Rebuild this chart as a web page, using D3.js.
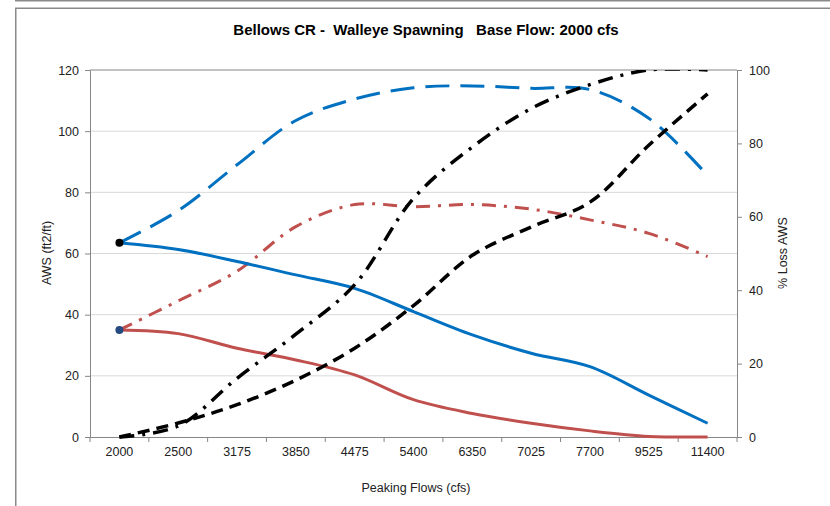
<!DOCTYPE html>
<html>
<head>
<meta charset="utf-8">
<script src="https://cdn.jsdelivr.net/npm/d3@7"></script>
<style>
  html, body { margin: 0; padding: 0; background: #fff; }
  svg { display: block; font-family: "Liberation Sans", Arial, sans-serif; }
  text { white-space: pre; }
</style>
</head>
<body>
<svg id="chart" width="830" height="506"></svg>
<script>
// ---- data ----
const categories = ["2000","2500","3175","3850","4475","5400","6350","7025","7700","9525","11400"];
const leftTicks = [0, 20, 40, 60, 80, 100, 120];
const rightTicks = [0, 20, 40, 60, 80, 100];
// left axis (AWS ft2/ft)
const awsBlueSolid  = [63.5, 61.3, 57.4, 53.0, 48.6, 41.0, 33.4, 27.4, 23.0, 13.7, 4.5];
const awsRedSolid   = [35.0, 33.8, 29.0, 25.2, 20.3, 12.2, 7.7, 4.5, 2.0, 0.2, 0.0];
const awsBlueDashed = [63.5, 74.0, 89.0, 103.5, 110.5, 114.2, 114.8, 114.0, 113.6, 104.2, 85.5];
const awsRedDashDot = [35.0, 44.5, 54.2, 68.8, 76.0, 75.3, 76.0, 74.5, 71.0, 66.6, 59.0];
// right axis (% Loss AWS)
const lossBlackDashDot = [0, 3.0, 16.0, 28.0, 41.5, 65.0, 79.0, 89.5, 96.0, 100, 100];
const lossBlackDashed  = [0, 3.8, 8.8, 15.5, 24.2, 35.8, 49.5, 57.2, 64.0, 79.5, 93.5];
// start markers
const markerBlack = { cat: "2000", value: 63.5 };
const markerNavy  = { cat: "2000", value: 35.0 };

// ---- layout ----
const svg = d3.select("#chart");
const L = 90, R = 737, T = 70, B = 437;
const axisColor = "#868686";
const textColor = "#222";

// outer frame
svg.append("line").attr("x1", 15).attr("x2", 830).attr("y1", 0.5).attr("y2", 0.5)
  .attr("stroke", "#8a8a8a").attr("stroke-width", 2);
svg.append("rect").attr("x", 15.75).attr("y", 8.25).attr("width", 900).attr("height", 600)
  .attr("fill", "none").attr("stroke", "#8a8a8a").attr("stroke-width", 1.5);

svg.append("defs").append("clipPath").attr("id", "plotClip")
  .append("rect").attr("x", L - 10).attr("y", T).attr("width", R - L + 20).attr("height", B - T + 10);

const x = d3.scaleBand().domain(categories).range([L, R]).padding(0);
const cx = c => x(c) + x.bandwidth() / 2;
const yL = d3.scaleLinear().domain([0, 120]).range([B, T]);
const yR = d3.scaleLinear().domain([0, 100]).range([B, T]);

// gridlines
svg.append("g").selectAll("line").data(leftTicks.filter(t => t > 0 && t < 120)).join("line")
  .attr("x1", L).attr("x2", R).attr("y1", d => yL(d)).attr("y2", d => yL(d))
  .attr("stroke", "#d9d9d9").attr("stroke-width", 1);
// top border
svg.append("line").attr("x1", L).attr("x2", R).attr("y1", yL(120)).attr("y2", yL(120))
  .attr("stroke", axisColor).attr("stroke-width", 1);

function styleAxis(g) {
  g.select(".domain").attr("stroke", axisColor).attr("stroke-width", 1);
  g.selectAll(".tick line").attr("stroke", axisColor);
  g.selectAll(".tick text").attr("fill", textColor).style("font-size", "12.5px")
    .style("font-family", "'Liberation Sans', Arial, sans-serif");
}

// left axis
svg.append("g").attr("transform", `translate(${L},0)`)
  .call(d3.axisLeft(yL).tickValues(leftTicks).tickSize(5).tickPadding(6).tickSizeOuter(0))
  .call(styleAxis);
// right axis
svg.append("g").attr("transform", `translate(${R},0)`)
  .call(d3.axisRight(yR).tickValues(rightTicks).tickSize(5).tickPadding(7).tickSizeOuter(0))
  .call(styleAxis);
// bottom axis (labels centred in bands, ticks on band boundaries)
const xg = svg.append("g").attr("transform", `translate(0,${B})`)
  .call(d3.axisBottom(x).tickSize(0).tickPadding(10).tickSizeOuter(0))
  .call(styleAxis);
xg.select(".domain").attr("d", `M${L},0.5H${R}`);
const boundaries = categories.map(c => x(c)).concat([x(categories[categories.length - 1]) + x.bandwidth()]);
svg.append("g").selectAll("line").data(boundaries).join("line")
  .attr("x1", d => d).attr("x2", d => d).attr("y1", B).attr("y2", B + 5)
  .attr("stroke", axisColor);

// series lines
const blue = "#0070c0", red = "#c0504d";
const plot = svg.append("g").attr("clip-path", "url(#plotClip)");
function drawLine(values, yScale, color, width, dash) {
  const line = d3.line()
    .x((d, i) => cx(categories[i]))
    .y(d => yScale(d))
    .curve(d3.curveCatmullRom.alpha(0.5));
  plot.append("path").datum(values)
    .attr("d", line).attr("fill", "none")
    .attr("stroke", color).attr("stroke-width", width)
    .attr("stroke-dasharray", dash || null)
    .attr("stroke-linejoin", "round");
}
drawLine(awsBlueDashed, yL, blue, 3, "24,11");
drawLine(awsRedDashDot, yL, red, 3, "14,8,3,8");
drawLine(awsBlueSolid, yL, blue, 3, null);
drawLine(awsRedSolid, yL, red, 3, null);
drawLine(lossBlackDashDot, yR, "#000", 3.5, "15,8,3,8");
drawLine(lossBlackDashed, yR, "#000", 3.5, "12,7");

// markers
svg.append("circle").attr("cx", cx(markerBlack.cat)).attr("cy", yL(markerBlack.value)).attr("r", 4).attr("fill", "#000");
svg.append("circle").attr("cx", cx(markerNavy.cat)).attr("cy", yL(markerNavy.value)).attr("r", 4).attr("fill", "#254a7f");

// titles
svg.append("text").attr("x", 426).attr("y", 35).attr("text-anchor", "middle")
  .style("font-size", "15px").style("font-weight", "bold").attr("fill", "#000")
  .text("Bellows CR -  Walleye Spawning   Base Flow: 2000 cfs");
svg.append("text").attr("x", 416).attr("y", 492).attr("text-anchor", "middle")
  .style("font-size", "12.5px").attr("fill", textColor).text("Peaking Flows (cfs)");
svg.append("text").attr("transform", "translate(51,253) rotate(-90)").attr("text-anchor", "middle")
  .style("font-size", "12.5px").attr("fill", textColor).text("AWS (ft2/ft)");
svg.append("text").attr("transform", "translate(787,253) rotate(-90)").attr("text-anchor", "middle")
  .style("font-size", "12.5px").attr("fill", textColor).text("% Loss AWS");
</script>
</body>
</html>
